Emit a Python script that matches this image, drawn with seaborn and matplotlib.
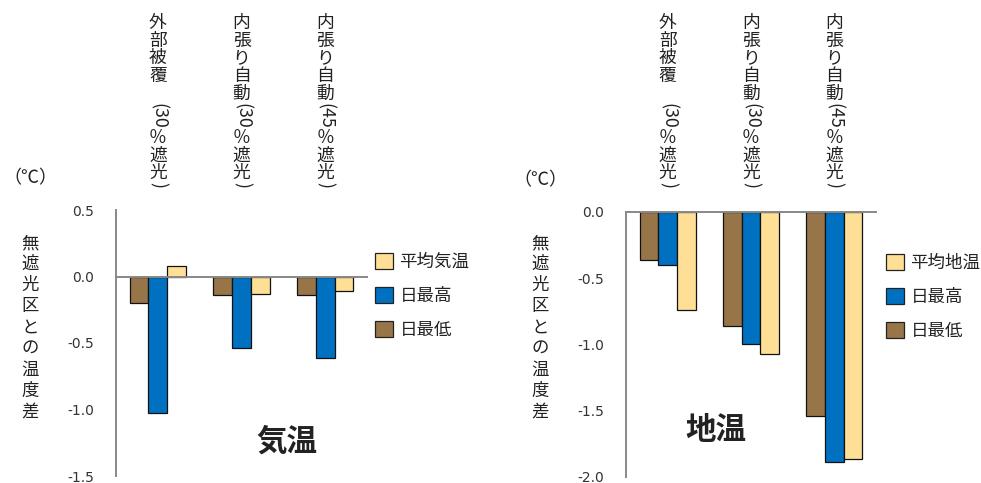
import re

import matplotlib
matplotlib.use("Agg")
import matplotlib.pyplot as plt
import matplotlib.transforms as mtransforms
from matplotlib.patches import Patch
import pandas as pd
import seaborn as sns

# 処理区（縦書きラベル）
GROUPS = ["外部被覆　(30％遮光)", "内張り自動(30％遮光)", "内張り自動(45％遮光)"]

# 気温：無遮光区との差（℃）
AIR_MIN = [-0.20, -0.14, -0.14]
AIR_MAX = [-1.03, -0.54, -0.61]
AIR_MEAN = [0.08, -0.13, -0.11]

# 地温：無遮光区との差（℃）
SOIL_MIN = [-0.36, -0.86, -1.54]
SOIL_MAX = [-0.40, -1.00, -1.89]
SOIL_MEAN = [-0.74, -1.07, -1.87]

SERIES_AIR = ["日最低", "日最高", "平均気温"]
SERIES_SOIL = ["日最低", "日最高", "平均地温"]
COLORS = ["#987548", "#0070C0", "#FFDF96"]

YLABEL = "無遮光区との温度差"
UNIT = "（℃）"

W, H = 981, 483

sns.set_style("white")
plt.rcParams["font.family"] = ["Noto Sans CJK JP", "DejaVu Sans"]
plt.rcParams["axes.unicode_minus"] = False

TEXT_COLOR = "#222222"
AXIS_COLOR = "#888888"


def to_frame(series, values):
    rows = []
    for name, vals in zip(series, values):
        for g, v in zip(GROUPS, vals):
            rows.append({"group": g, "kind": name, "value": v})
    return pd.DataFrame(rows)


def vertical_text(fig, ax, xdata, bottom_px, text, size, pitch):
    """縦書き：漢字は正立、英数字は90度回転"""
    trans = mtransforms.blended_transform_factory(ax.transData, fig.transFigure)
    renderer = fig.canvas.get_renderer()
    tokens = re.findall(r"[ -~]+|.", text)
    objs = []
    for tok in tokens:
        rotated = tok.isascii()
        t = fig.text(0, 0, tok, rotation=-90 if rotated else 0, ha="center",
                     va="center", fontsize=size, color=TEXT_COLOR, transform=trans)
        h = t.get_window_extent(renderer).height + 1 if rotated else pitch
        objs.append((t, h))
    y = bottom_px - sum(h for _, h in objs)
    for t, h in objs:
        t.set_position((xdata, 1 - (y + h / 2) / H))
        y += h


def stacked_chars(fig, x_px, top_px, text, size, pitch):
    for i, ch in enumerate(text):
        fig.text(x_px / W, 1 - (top_px + i * pitch) / H, ch, ha="center",
                 va="center", fontsize=size, color=TEXT_COLOR)


def draw_panel(fig, rect, series, values, ylim, yticks, title, title_xy,
               label_x, unit_xy, legend_xy):
    ax = fig.add_axes(rect)
    df = to_frame(series, values)
    sns.barplot(data=df, x="group", y="value", hue="kind", order=GROUPS,
                hue_order=series, palette=COLORS, saturation=1, width=0.67,
                edgecolor="#111111", linewidth=0.9, ax=ax, legend=False)
    ax.set_xlim(-0.5, 2.5)
    ax.set_ylim(*ylim)
    ax.set_yticks(yticks)
    ax.set_yticklabels([f"{v:.1f}" for v in yticks], fontfamily="DejaVu Sans",
                       fontsize=10, color="#333333")
    ax.set_xticks([0.5, 1.5, 2.5])
    ax.set_xticklabels([])
    ax.set_xlabel("")
    ax.set_ylabel("")
    for s in ["top", "right"]:
        ax.spines[s].set_visible(False)
    ax.spines["bottom"].set_position(("data", 0))
    for s in ["left", "bottom"]:
        ax.spines[s].set_color(AXIS_COLOR)
        ax.spines[s].set_linewidth(1.4)
    ax.tick_params(axis="y", direction="out", length=4.5, width=1.2,
                   color=AXIS_COLOR, pad=11)
    ax.tick_params(axis="x", direction="out", length=4, width=1.2,
                   color=AXIS_COLOR)
    ax.patch.set_alpha(0)

    fig.canvas.draw()
    for i, g in enumerate(GROUPS):
        vertical_text(fig, ax, i, 189, g, 12.8, 17.6)

    stacked_chars(fig, label_x, 243, YLABEL, 12.5, 21.1)
    fig.text(unit_xy[0] / W, 1 - unit_xy[1] / H, UNIT, ha="center", va="center",
             fontsize=13, color=TEXT_COLOR)
    fig.text(title_xy[0] / W, 1 - title_xy[1] / H, title, ha="center",
             va="center", fontsize=22, fontweight="bold", color=TEXT_COLOR)

    handles = [Patch(facecolor=c, edgecolor="#222222", linewidth=0.9, label=n)
               for n, c in zip(series, COLORS)][::-1]
    ax.legend(handles=handles, loc="center left",
              bbox_to_anchor=(legend_xy[0] / W, 1 - legend_xy[1] / H),
              bbox_transform=fig.transFigure, frameon=False, fontsize=12.6,
              handlelength=1.0, handleheight=1.0, handletextpad=0.4,
              labelspacing=0.9, borderpad=0, borderaxespad=0,
              labelcolor=TEXT_COLOR)
    return ax


fig = plt.figure(figsize=(W / 100, H / 100), dpi=100)

draw_panel(fig, [116 / W, 1 - 476 / H, 251 / W, 266 / H], SERIES_AIR,
           [AIR_MIN, AIR_MAX, AIR_MEAN], (-1.5, 0.5), [0.5, 0.0, -0.5, -1.0, -1.5],
           "気温", (287, 442), 30, (30, 178), (375, 296))

draw_panel(fig, [626 / W, 1 - 476.5 / H, 250 / W, 264.5 / H], SERIES_SOIL,
           [SOIL_MIN, SOIL_MAX, SOIL_MEAN], (-2.0, 0.0), [0.0, -0.5, -1.0, -1.5, -2.0],
           "地温", (716, 430), 540, (540, 180), (886, 297))

fig.savefig("out.png", dpi=100)
